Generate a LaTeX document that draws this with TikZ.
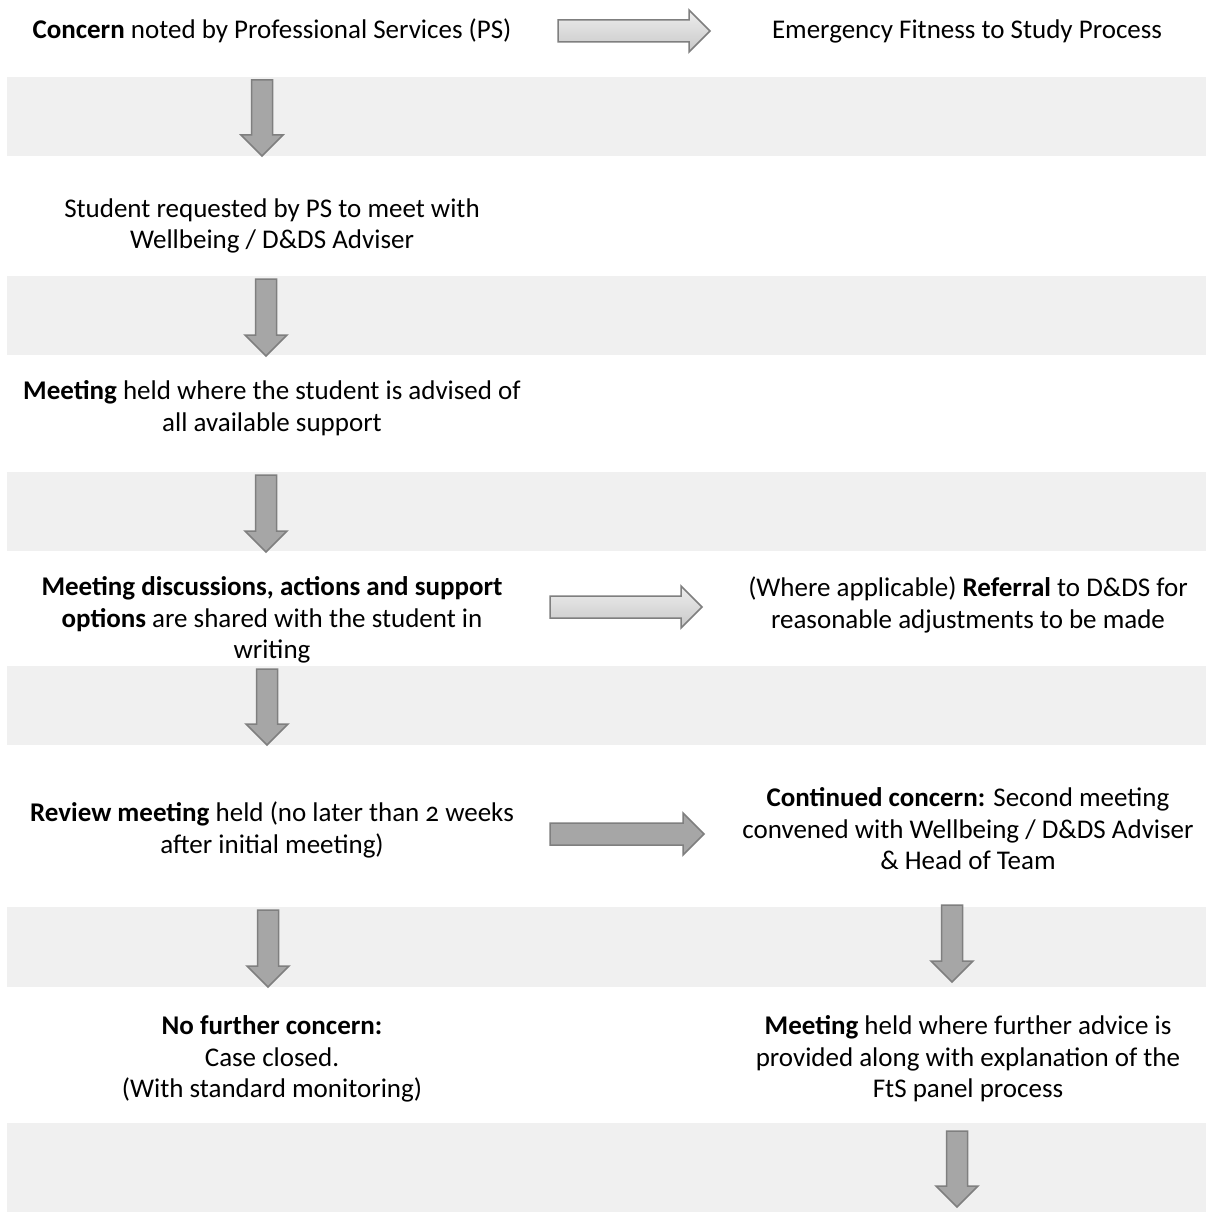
\documentclass[tikz,border=0pt]{standalone}
\usepackage{fontspec}
\setmainfont{Carlito}[Numbers=OldStyle]
\usetikzlibrary{calc}
\definecolor{bandgray}{RGB}{240,240,240}
\definecolor{arrfill}{RGB}{166,166,166}
\definecolor{arrline}{RGB}{127,127,127}
\definecolor{gradtop}{RGB}{238,238,238}
\definecolor{gradbot}{RGB}{200,200,200}
\tikzset{
  band/.style={fill=bandgray, draw=none},
  txt/.style={align=center, inner sep=0pt, font=\fontsize{27}{31.5}\selectfont, text=black},
  blockdown/.style={fill=arrfill, draw=arrline, line width=1.5pt, line join=miter,
    to path={let \p1=(\tikztostart), \p2=(\tikztotarget) in
      (\x1-10.5pt,\y1) -- (\x1+10.5pt,\y1) -- (\x1+10.5pt,\y2+21pt) -- (\x1+21pt,\y2+21pt)
      -- (\x1,\y2) -- (\x1-21pt,\y2+21pt) -- (\x1-10.5pt,\y2+21pt) -- cycle}},
  blockright/.style={draw=arrline, line width=1.5pt, line join=miter,
    to path={let \p1=(\tikztostart), \p2=(\tikztotarget) in
      (\x1,\y1+11pt) -- (\x2-21pt,\y1+11pt) -- (\x2-21pt,\y1+21pt) -- (\x2,\y1)
      -- (\x2-21pt,\y1-21pt) -- (\x2-21pt,\y1-11pt) -- (\x1,\y1-11pt) -- cycle}},
  lightarrow/.style={blockright, top color=gradtop, bottom color=gradbot},
  darkarrow/.style={blockright, fill=arrfill}
}
\begin{document}
\begin{tikzpicture}[x=1pt, y=-1pt]
\useasboundingbox (0,0) rectangle (1206,1212);
\fill[white] (0,0) rectangle (1206,1212);
% bands
\fill[band] (7,77) rectangle (1206,156);
\fill[band] (7,276) rectangle (1206,355);
\fill[band] (7,472) rectangle (1206,551);
\fill[band] (7,666) rectangle (1206,745);
\fill[band] (7,907) rectangle (1206,987);
\fill[band] (7,1123) rectangle (1206,1212);

% text nodes
\node[txt] (concern) at (272,31) {\textbf{Concern} noted by Professional Services (PS)};
\node[txt] (emerg) at (967,31) {Emergency Fitness to Study Process};
\node[txt] (student) at (272,226) {Student requested by PS to meet with\\Wellbeing / D\&DS Adviser};
\node[txt] (meet1) at (272,408) {\textbf{Meeting} held where the student is advised of\\all available support};
\node[txt] (shared) at (272,620) {\textbf{Meeting discussions, actions and support}\\\textbf{options} are shared with the student in\\writing};
\node[txt] (referral) at (968,605) {(Where applicable) \textbf{Referral} to D\&DS for\\reasonable adjustments to be made};
\node[txt] (review) at (272,830) {\textbf{Review meeting} held (no later than 2 weeks\\after initial meeting)};
\node[txt] (continued) at (968,829) {\textbf{Continued concern:} Second meeting\\convened with Wellbeing / D\&DS Adviser\\\& Head of Team};
\node[txt] (nofurther) at (272,1059) {\textbf{No further concern:}\\Case closed.\\(With standard monitoring)};
\node[txt] (meet2) at (968,1059) {\textbf{Meeting} held where further advice is\\provided along with explanation of the\\FtS panel process};

% connector end coordinates
\coordinate (d1s) at (262,80);   \coordinate (d1e) at (262,156);
\coordinate (d2s) at (266,279);  \coordinate (d2e) at (266,356);
\coordinate (d3s) at (266,475);  \coordinate (d3e) at (266,552);
\coordinate (d4s) at (267,669);  \coordinate (d4e) at (267,745);
\coordinate (d5s) at (268,910);  \coordinate (d5e) at (268,987);
\coordinate (d6s) at (952,905);  \coordinate (d6e) at (952,982);
\coordinate (d7s) at (957,1131); \coordinate (d7e) at (957,1207);
\coordinate (r1s) at (558,31);   \coordinate (r1e) at (710,31);
\coordinate (r2s) at (550,607);  \coordinate (r2e) at (702,607);
\coordinate (r3s) at (550,834);  \coordinate (r3e) at (704,834);

% connectors
\draw[blockdown] (d1s) to (d1e);
\draw[blockdown] (d2s) to (d2e);
\draw[blockdown] (d3s) to (d3e);
\draw[blockdown] (d4s) to (d4e);
\draw[blockdown] (d5s) to (d5e);
\draw[blockdown] (d6s) to (d6e);
\draw[blockdown] (d7s) to (d7e);
\draw[lightarrow] (r1s) to (r1e);
\draw[lightarrow] (r2s) to (r2e);
\draw[darkarrow] (r3s) to (r3e);
\end{tikzpicture}
\end{document}
